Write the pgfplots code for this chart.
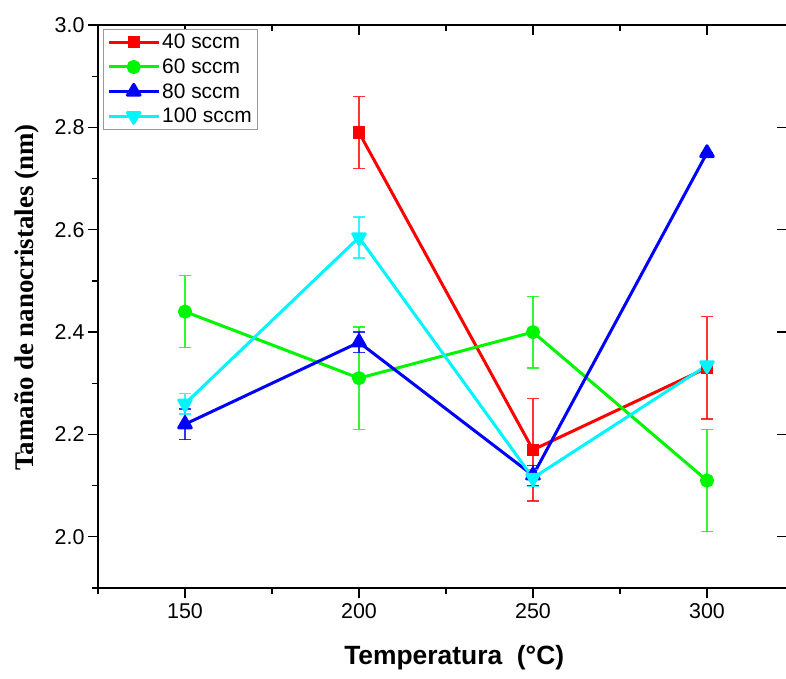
\documentclass[border=0pt]{standalone}
\usepackage{fontspec}
\setmainfont{Liberation Sans}
\newfontfamily\serifbold{Liberation Serif}
\usepackage{pgfplots}
\pgfplotsset{compat=1.18}

\definecolor{cred}{RGB}{255,0,0}
\definecolor{cgreen}{RGB}{0,245,0}
\definecolor{cblue}{RGB}{0,0,255}
\definecolor{ccyan}{RGB}{0,245,255}

\begin{document}
\begin{tikzpicture}
\pgfplotsset{
  frame/.style={
    scale only axis,
    width=689bp, height=563bp,
    xmin=125, xmax=323, ymin=1.9, ymax=3.0,
    xtick={150,200,250,300},
    minor xtick={125,175,225,275},
    ytick={2.0,2.2,2.4,2.6,2.8,3.0},
    minor ytick={1.9,2.1,2.3,2.5,2.7,2.9},
    axis line style={line width=1.6bp},
    every tick/.style={black, line width=1.3bp},
    major tick length=10bp,
    minor tick length=6bp,
  },
}
% top and right frame with inward ticks
\begin{axis}[frame,
  axis x line*=top, axis y line*=right,
  tick align=inside,
  minor ytick={},
  xticklabels={}, yticklabels={},
]
\end{axis}
\begin{axis}[frame, name=main,
  axis x line*=bottom, axis y line*=left,
  tick align=outside,
  /pgf/number format/assume math mode=true,
  ticklabel style={font=\fontsize{21.5}{25}\selectfont},
  yticklabel style={/pgf/number format/.cd, fixed, fixed zerofill, precision=1},
  xticklabel style={yshift=-2bp},
  xlabel={Temperatura\ \ (°C)},
  xlabel style={font=\fontsize{26.5}{30}\selectfont\bfseries,
    at={(axis description cs:0.517,-0.123)}, anchor=center},
  ylabel={\serifbold\bfseries Tamaño de nanocristales (nm)},
  ylabel style={font=\fontsize{27}{31}\selectfont,
    at={(axis description cs:-0.103,0.516)}, anchor=center, rotate=0},
  legend style={at={(axis description cs:0.007,0.993)}, anchor=north west,
    draw=gray!80, line width=0.8bp, font=\fontsize{21}{25}\selectfont,
    row sep=4.5bp, inner xsep=4bp, inner ysep=3bp},
  legend cell align=left,
  legend image code/.code={%
    \draw[#1, mark repeat=2, mark phase=2]
      plot coordinates {(0bp,0bp) (25bp,0bp) (50bp,0bp)};},
  every axis plot/.append style={line width=3bp},
  error bars/error bar style={line width=1.3bp, opacity=0.8},
  error bars/error mark options={rotate=90, mark size=6bp, line width=1.3bp, opacity=0.8},
]
% 40 sccm
\addplot[cred, mark=square*, mark size=4.6bp,
  error bars/.cd, y dir=both, y explicit]
  table[x=T, y=d, y error=e] {
  T    d     e
  200  2.79  0.07
  250  2.17  0.10
  300  2.33  0.10
};
\addlegendentry{40 sccm}
% 60 sccm
\addplot[cgreen, mark=*, mark size=5.6bp,
  error bars/.cd, y dir=both, y explicit]
  table[x=T, y=d, y error=e] {
  T    d     e
  150  2.44  0.07
  200  2.31  0.10
  250  2.40  0.07
  300  2.11  0.10
};
\addlegendentry{60 sccm}
% 80 sccm
\addplot[cblue, mark=triangle*, mark size=7.2bp,
  mark options={line join=round},
  error bars/.cd, y dir=both, y explicit]
  table[x=T, y=d, y error=e] {
  T    d     e
  150  2.22  0.03
  200  2.38  0.02
  250  2.12  0.02
  300  2.75  0.00
};
\addlegendentry{80 sccm}
% 100 sccm
\addplot[ccyan, mark=triangle*, mark size=7.2bp,
  mark options={rotate=180, line join=round},
  error bars/.cd, y dir=both, y explicit]
  table[x=T, y=d, y error=e] {
  T    d      e
  150  2.26   0.02
  200  2.585  0.04
  250  2.115  0.017
  300  2.335  0.00
};
\addlegendentry{100 sccm}
\end{axis}
\pgfresetboundingbox
\path ([xshift=-98bp,yshift=-91bp]main.south west) rectangle
      ([xshift=688bp,yshift=588bp]main.south west);
\end{tikzpicture}
\end{document}
